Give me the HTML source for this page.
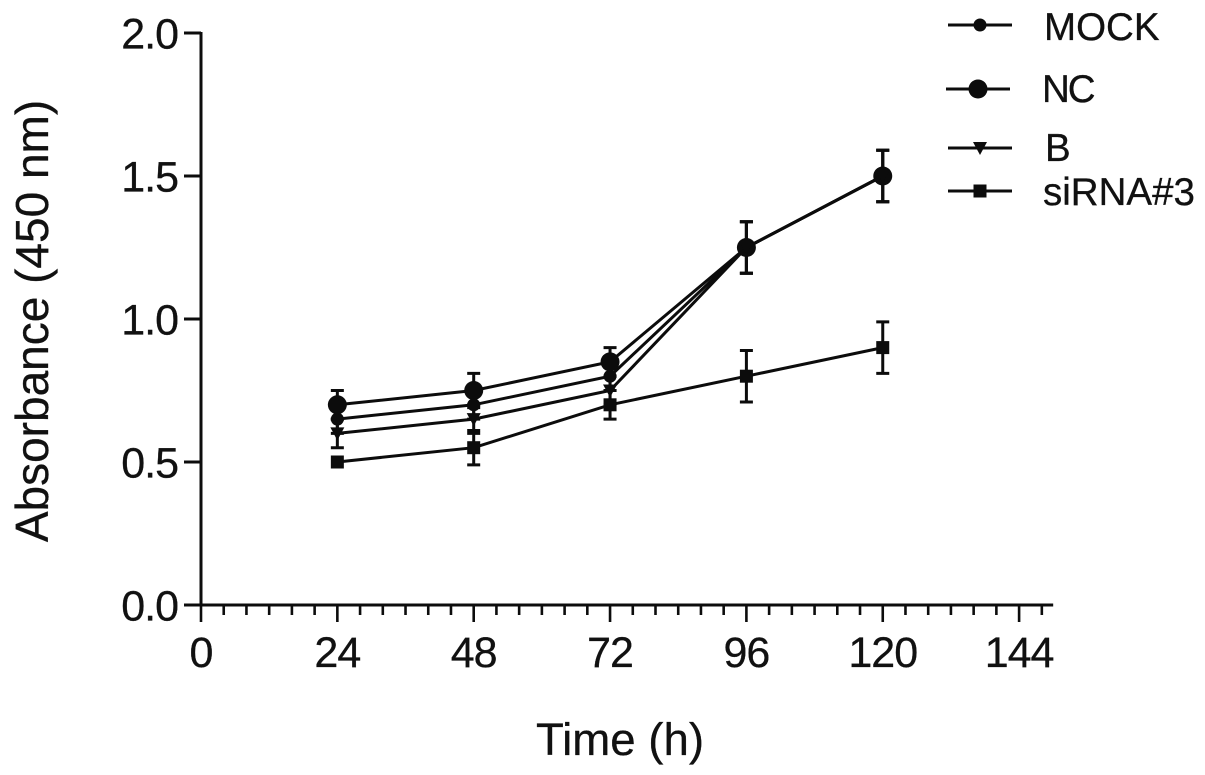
<!DOCTYPE html>
<html>
<head>
<meta charset="utf-8">
<title>Absorbance over time</title>
<style>
html,body{margin:0;padding:0;background:#fff;width:1205px;height:775px;overflow:hidden}
svg{display:block}
text{font-family:"Liberation Sans",sans-serif;fill:#111;stroke:#111;stroke-width:0.3}
</style>
</head>
<body>
<svg id="chart" width="1205" height="775" viewBox="0 0 1205 775" xmlns="http://www.w3.org/2000/svg">
  <g id="axes"></g>
  <g id="series"></g>
  <text transform="translate(48,321) rotate(-90)" text-anchor="middle" font-size="46">Absorbance (450 nm)</text>
  <text x="620" y="755" text-anchor="middle" font-size="45.6">Time (h)</text>
  <g id="legend"></g>
</svg>
<script>
var timePoints = [24, 48, 72, 96, 120];
var mockValues = [0.65, 0.70, 0.80, 1.25, 1.50];
var mockErrors = [0.05, 0.05, 0.05, 0.09, 0.09];
var ncValues = [0.70, 0.75, 0.85, 1.25, 1.50];
var ncErrors = [0.05, 0.06, 0.05, 0.09, 0.09];
var bValues = [0.60, 0.65, 0.75, 1.25, 1.50];
var bErrors = [0.05, 0.05, 0.05, 0.09, 0.09];
var sirnaValues = [0.50, 0.55, 0.70, 0.80, 0.90];
var sirnaErrors = [0.00, 0.06, 0.05, 0.09, 0.09];
var xTickLabels = [0, 24, 48, 72, 96, 120, 144];
var yTickLabels = ['0.0', '0.5', '1.0', '1.5', '2.0'];
var seriesNames = ['MOCK', 'NC', 'B', 'siRNA#3'];

var NS = 'http://www.w3.org/2000/svg';
var INK = '#0c0c0c';
function xScale(v) { return 201 + v * (136.35 / 24); }
function yScale(v) { return 605 - v * 286; }
function make(tag, attrs, parent) {
  var el = document.createElementNS(NS, tag);
  for (var k in attrs) { el.setAttribute(k, attrs[k]); }
  parent.appendChild(el);
  return el;
}
function line(x1, y1, x2, y2, w, parent) {
  return make('line', { x1: x1, y1: y1, x2: x2, y2: y2, stroke: INK, 'stroke-width': w }, parent);
}
function marker(kind, cx, cy, parent) {
  if (kind === 'MOCK') {
    return make('circle', { cx: cx, cy: cy, r: 6.5, fill: INK }, parent);
  }
  if (kind === 'NC') {
    return make('circle', { cx: cx, cy: cy, r: 9.5, fill: INK }, parent);
  }
  if (kind === 'B') {
    var pts = (cx - 7) + ',' + (cy - 6) + ' ' + (cx + 7) + ',' + (cy - 6) + ' ' + cx + ',' + (cy + 7);
    return make('polygon', { points: pts, fill: INK }, parent);
  }
  return make('rect', { x: cx - 6.5, y: cy - 6.5, width: 13, height: 13, fill: INK }, parent);
}

var axes = document.getElementById('axes');
var yAxisLine = line(201, yScale(2) - 1, 201, yScale(0) + 1, 3, axes);


var xAxisLine = line(184, yScale(0), xScale(150), yScale(0), 3, axes);



yTickLabels.forEach(function (lab) {
  var v = parseFloat(lab);
  var t = line(184, yScale(v), 201, yScale(v), 3, axes);
  
  
  var tx = make('text', { x: 178, y: yScale(v) + 15.5, 'text-anchor': 'end', 'font-size': 43, 'letter-spacing': -1 }, axes);
  tx.textContent = lab;
  
  
});

for (var h = 0; h <= 148; h += 4) {
  var isMajor = xTickLabels.indexOf(h) >= 0;
  var mt = line(xScale(h), yScale(0), xScale(h), yScale(0) + (isMajor ? 17 : 10), 2.6, axes);
  
  
}
xTickLabels.forEach(function (v) {
  var tx = make('text', { x: xScale(v), y: 667, 'text-anchor': 'middle', 'font-size': 43, 'letter-spacing': -1 }, axes);
  tx.textContent = String(v);
  
  
});

var seriesValues = [mockValues, ncValues, bValues, sirnaValues];
var seriesErrors = [mockErrors, ncErrors, bErrors, sirnaErrors];
var seriesRoot = document.getElementById('series');
seriesNames.forEach(function (name, i) {
  var g = make('g', {}, seriesRoot);
  
  
  var vals = seriesValues[i];
  var errs = seriesErrors[i];
  var pts = vals.map(function (v, j) { return xScale(timePoints[j]) + ',' + yScale(v); }).join(' ');
  var pl = make('polyline', { points: pts, fill: 'none', stroke: INK, 'stroke-width': 3 }, g);
  
  
  vals.forEach(function (v, j) {
    var cx = xScale(timePoints[j]);
    var e = errs[j];
    if (e > 0) {
      var eb = make('path', {
        d: 'M' + (cx - 6.5) + ' ' + yScale(v + e) + 'H' + (cx + 6.5) +
           'M' + cx + ' ' + yScale(v + e) + 'V' + yScale(v - e) +
           'M' + (cx - 6.5) + ' ' + yScale(v - e) + 'H' + (cx + 6.5),
        fill: 'none', stroke: INK, 'stroke-width': 3
      }, g);
      
      
    }
    var m = marker(name, cx, yScale(v), g);
    
    
  });
});

var legendRoot = document.getElementById('legend');
var legendLineY = [25, 89, 148, 191];
var legendLineX = [948, 946, 948, 948];
var legendTextX = [1044, 1042, 1045, 1043];
var legendTextY = [40, 102, 161, 205];
var legendSpacing = [0, -2, 0, 0];
seriesNames.forEach(function (name, i) {
  var g = make('g', {}, legendRoot);
  
  
  var ll = line(legendLineX[i], legendLineY[i], legendLineX[i] + 64, legendLineY[i], 3, g);
  
  
  var lm = marker(name, legendLineX[i] + 32, legendLineY[i], g);
  
  
  var lt = make('text', { x: legendTextX[i], y: legendTextY[i], 'font-size': 38.5, 'letter-spacing': legendSpacing[i] }, g);
  lt.textContent = name;
  
  
});
</script>
</body>
</html>
